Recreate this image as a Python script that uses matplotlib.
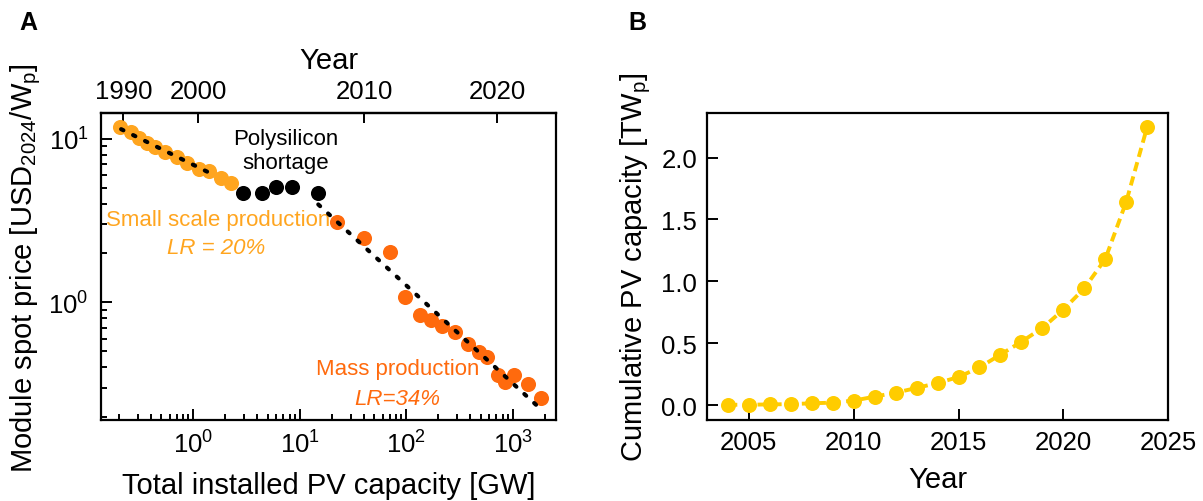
import matplotlib
matplotlib.use('Agg')
import matplotlib.pyplot as plt
import numpy as np

plt.rcParams['font.family'] = ['Liberation Sans', 'DejaVu Sans']
plt.rcParams['mathtext.fontset'] = 'custom'
plt.rcParams['mathtext.rm'] = 'Liberation Sans'
plt.rcParams['mathtext.it'] = 'Liberation Sans:italic'
plt.rcParams['axes.linewidth'] = 1.6

# Panel A: learning curve (capacity in GW, price in USD2024/Wp)
small_cap = [0.206, 0.259, 0.306, 0.367, 0.439, 0.545, 0.703, 0.873, 1.12, 1.39, 1.80, 2.28]
small_price = [11.86, 10.94, 10.14, 9.49, 8.92, 8.31, 7.74, 7.14, 6.56, 6.32, 5.74, 5.37]
short_cap = [2.95, 4.46, 6.03, 8.5, 14.7]
short_price = [4.64, 4.64, 5.06, 5.06, 4.64]
mass_cap = [22.5, 40, 69.8, 97.2, 134.6, 172, 214, 285, 380, 483, 571, 719, 843, 1031, 1378, 1837]
mass_price = [3.09, 2.46, 2.02, 1.08, 0.839, 0.774, 0.718, 0.662, 0.556, 0.499,
              0.464, 0.361, 0.325, 0.361, 0.315, 0.259]
small_lr = 0.20
mass_lr = 0.34
small_fit_span = (0.21, 1.6)
mass_fit_span = (14.9, 1800)

# top axis: cumulative capacity reached in each labelled year
year_ticks = [1990, 2000, 2010, 2020]
year_tick_cap = [0.22, 1.11, 40, 710]

# Panel B: cumulative capacity in TWp
years = list(range(2004, 2025))
cum_tw = [0.004, 0.005, 0.007, 0.010, 0.016, 0.022, 0.038, 0.070, 0.102, 0.140, 0.180,
          0.228, 0.306, 0.409, 0.513, 0.624, 0.772, 0.944, 1.180, 1.642, 2.247]

c_small = '#FFA51F'
c_mass = '#FF6A0D'
c_cum = '#FFCC00'
tick_fs = 18.5
label_fs = 21
note_fs = 16

fig = plt.figure(figsize=(12.03, 5.02), dpi=100)
ax = fig.add_axes([0.084, 0.161, 0.378, 0.612])
bx = fig.add_axes([0.5877, 0.161, 0.3833, 0.612])


def lr_line(cap, price, lr, span):
    # fixed slope from the learning rate, intercept fitted in log space
    b = np.log2(1 - lr)
    a = np.mean(np.log10(price) - b * np.log10(cap))
    xs = np.logspace(np.log10(span[0]), np.log10(span[1]), 50)
    return xs, 10 ** (a + b * np.log10(xs))


ms = 118
ax.scatter(small_cap, small_price, s=ms, color=c_small, lw=0, zorder=3)
ax.scatter(short_cap, short_price, s=ms, color='black', lw=0, zorder=3)
ax.scatter(mass_cap, mass_price, s=ms, color=c_mass, lw=0, zorder=3)
for cap, price, lr, span in [(small_cap, small_price, small_lr, small_fit_span),
                             (mass_cap, mass_price, mass_lr, mass_fit_span)]:
    xs, ys = lr_line(cap, price, lr, span)
    ax.plot(xs, ys, color='black', ls=(0, (0.6, 2.6)), lw=3, dash_capstyle='round', zorder=4)

ax.set_xscale('log')
ax.set_yscale('log')
ax.set_xlim(0.136, 2530)
ax.set_ylim(0.19, 14.4)
ax.tick_params(which='both', direction='in', labelsize=tick_fs, width=1.4, pad=7)
ax.tick_params(axis='y', which='both', pad=9)
ax.tick_params(which='major', length=8)
ax.tick_params(which='minor', length=4)
ax.set_xlabel('Total installed PV capacity [GW]', fontsize=label_fs, labelpad=10)
ax.set_ylabel('Module spot price [USD$_{2024}$/W$_\\mathrm{p}$]', fontsize=label_fs, labelpad=4)

top = ax.secondary_xaxis('top')
top.set_xticks(year_tick_cap)
top.set_xticklabels([str(y) for y in year_ticks])
top.xaxis.set_minor_locator(matplotlib.ticker.NullLocator())
top.tick_params(direction='in', length=7, width=1.4, labelsize=tick_fs, pad=7)
top.set_xlabel('Year', fontsize=label_fs, labelpad=8)

ax.text(7.3, 8.5, 'Polysilicon\nshortage', ha='center', va='center', fontsize=note_fs,
        linespacing=1.15, zorder=5)
ax.text(1.7, 3.2, 'Small scale production', ha='center', va='center', fontsize=note_fs,
        color=c_small)
ax.text(1.64, 2.15, f'LR = {small_lr:.0%}', ha='center', va='center', fontsize=note_fs,
        color=c_small, style='italic')
ax.text(83, 0.391, 'Mass production', ha='center', va='center', fontsize=note_fs, color=c_mass)
ax.text(83, 0.257, f'LR={mass_lr:.0%}', ha='center', va='center', fontsize=note_fs,
        color=c_mass, style='italic')

bx.plot(years, cum_tw, color=c_cum, ls=(0, (2.4, 1.4)), lw=2.8, marker='o', ms=10.8,
        mew=0, zorder=3)
bx.set_xlim(2003, 2025)
bx.set_ylim(-0.12, 2.36)
bx.set_xticks([2005, 2010, 2015, 2020, 2025])
bx.set_yticks([0.0, 0.5, 1.0, 1.5, 2.0])
bx.tick_params(direction='in', length=8, width=1.4, labelsize=tick_fs, pad=7)
bx.set_xlabel('Year', fontsize=label_fs, labelpad=8)
bx.set_ylabel('Cumulative PV capacity [TW$_\\mathrm{p}$]', fontsize=label_fs, labelpad=6)

fig.text(0.0233, 0.954, 'A', fontsize=18, fontweight='bold', ha='center', va='center')
fig.text(0.5295, 0.954, 'B', fontsize=18, fontweight='bold', ha='center', va='center')

fig.savefig('out.png', dpi=100, facecolor='white')
